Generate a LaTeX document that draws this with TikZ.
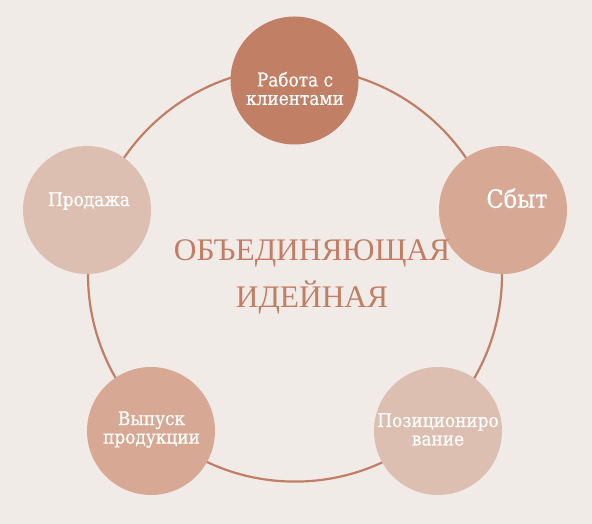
\documentclass[tikz,border=0pt]{standalone}
\usepackage{fontspec}
\setmainfont{DejaVu Serif}
\newfontfamily\lblfont[FakeBold=0.6,FakeStretch=0.9]{DejaVu Serif}
\newfontfamily\titlefont{Liberation Serif}
\definecolor{bgc}{HTML}{F1EBE8}
\definecolor{ringc}{HTML}{C27E64}
\definecolor{darkc}{HTML}{C17F65}
\definecolor{midc}{HTML}{D7A995}
\definecolor{lightc}{HTML}{DDBFB1}
\tikzset{
  ring/.style={circle, draw=ringc, line width=2.2pt, minimum size=414pt, inner sep=0pt},
  blob/.style={circle, minimum size=128pt, inner sep=0pt},
  lbl/.style={text=white, align=center, inner sep=0pt, font=\lblfont\fontsize{18.8}{18.5}\selectfont},
  ttl/.style={text=ringc, align=center, inner sep=0pt, font=\titlefont\fontsize{31.4}{46.6}\selectfont}
}
\begin{document}
\begin{tikzpicture}[x=1pt,y=1pt]
\fill[bgc] (0,0) rectangle (592,524);
\useasboundingbox (0,0) rectangle (592,524);
\node[ring] (ring) at (295,249.4) {};
\node[blob, fill=darkc] (c1) at (294.5,443.5) {};
\node[blob, fill=midc] (c2) at (503,314) {};
\node[blob, fill=lightc] (c3) at (438,93) {};
\node[blob, fill=midc] (c4) at (151,93) {};
\node[blob, fill=lightc] (c5) at (87,314) {};
\node[lbl] (t1) at (295,435.5) {Работа с\\клиентами};
\node[lbl, anchor=base, font=\lblfont\fontsize{25}{26}\selectfont] (t2) at (517,316.3) {Сбыт};
\node[lbl] (t3) at (438,94.5) {Позициониро\\вание};
\node[lbl] (t4) at (151.5,94.5) {Выпуск\\продукции};
\node[lbl, anchor=base] (t5) at (89,318) {Продажа};
\node[ttl] (title) at (312,247) {ОБЪЕДИНЯЮЩАЯ\\ИДЕЙНАЯ};
\end{tikzpicture}
\end{document}
